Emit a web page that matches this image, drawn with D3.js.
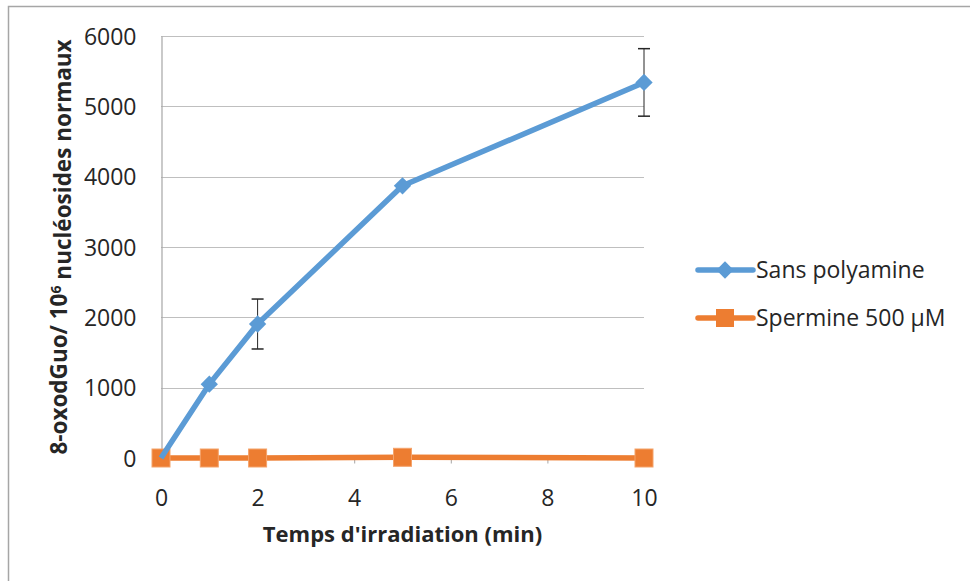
<!DOCTYPE html>
<html>
<head>
<meta charset="utf-8">
<script src="https://cdn.jsdelivr.net/npm/d3@7"></script>
<style>
html,body{margin:0;padding:0;background:#fff;}
svg{display:block;}
text{font-family:"Open Sans","Noto Sans",sans-serif;fill:#262626;}
</style>
</head>
<body>
<svg id="chart" width="970" height="581"></svg>
<script>
const times = [0, 1, 2, 5, 10];
const sansPolyamine = [0, 1050, 1905, 3870, 5340];
const sansPolyamineErr = [0, 0, 355, 0, 480];
const spermine = [0, 0, 0, 10, 0];
const seriesNames = ["Sans polyamine", "Spermine 500 µM"];
const xTicks = [0, 2, 4, 6, 8, 10];
const yTicks = [0, 1000, 2000, 3000, 4000, 5000, 6000];

const svg = d3.select("#chart");
const blue = "#5B9BD5", orange = "#ED7D31";

// chart frame
svg.append("rect").attr("x", 8.5).attr("y", 6.5).attr("width", 980).attr("height", 600)
  .attr("fill", "none").attr("stroke", "#a6a6a6").attr("stroke-width", 1.5);

const x = d3.scaleLinear().domain([0, 10]).range([161, 644]);
const y = d3.scaleLinear().domain([0, 6000]).range([458, 36]);

// gridlines
svg.append("g").selectAll("line").data(yTicks.filter(d => d > 0)).join("line")
  .attr("x1", x(0)).attr("x2", x(10))
  .attr("y1", d => Math.round(y(d)) + 0.5).attr("y2", d => Math.round(y(d)) + 0.5)
  .attr("stroke", "#bfbfbf").attr("stroke-width", 1.2);

// y axis
const yAxis = svg.append("g").attr("transform", `translate(${x(0) + 0.5},0)`)
  .call(d3.axisLeft(y).tickValues(yTicks).tickSize(0).tickPadding(25).tickFormat(d3.format("d")));
yAxis.select(".domain").attr("stroke", "#a6a6a6").attr("stroke-width", 1.2);
yAxis.selectAll("text").style("font-size", "23px").attr("fill", "#262626").attr("dy", "0.35em");

// x axis
const xAxis = svg.append("g").attr("transform", `translate(0,${y(0) + 0.5})`)
  .call(d3.axisBottom(x).tickValues(xTicks).tickSize(5).tickPadding(26));
xAxis.select(".domain").attr("stroke", "#a6a6a6").attr("stroke-width", 1.2);
xAxis.selectAll(".tick line").attr("stroke", "#a6a6a6");
xAxis.selectAll("text").style("font-size", "23px").attr("fill", "#262626");

// axis titles
svg.append("text").attr("x", (x(0) + x(10)) / 2).attr("y", 542)
  .attr("text-anchor", "middle").style("font-size", "22px").style("font-weight", "bold")
  .text("Temps d'irradiation (min)");

const yt = svg.append("text").attr("transform", `translate(67,${(y(0) + y(6000)) / 2}) rotate(-90)`)
  .attr("text-anchor", "middle").style("font-size", "22.5px").style("font-weight", "bold");
yt.append("tspan").text("8-oxodGuo/ 10");
yt.append("tspan").attr("dy", "-0.45em").style("font-size", "14px").text("6");
yt.append("tspan").attr("dy", "0.45em").text(" nucléosides normaux");

const line = d3.line().x(d => x(d[0])).y(d => y(d[1]));

// orange series
const dataO = times.map((t, i) => [t, spermine[i]]);
svg.append("path").datum(dataO).attr("d", line).attr("fill", "none")
  .attr("stroke", orange).attr("stroke-width", 5.5);
svg.append("g").selectAll("rect").data(dataO).join("rect")
  .attr("x", d => x(d[0]) - 9).attr("y", d => y(d[1]) - 9).attr("width", 18).attr("height", 18)
  .attr("fill", orange).attr("stroke", "#f4a36b").attr("stroke-width", 1);

// blue series
const dataB = times.map((t, i) => [t, sansPolyamine[i], sansPolyamineErr[i]]);
svg.append("path").datum(dataB).attr("d", line).attr("fill", "none")
  .attr("stroke", blue).attr("stroke-width", 5.5).attr("stroke-linejoin", "round");

// error bars
const eb = svg.append("g").selectAll("g").data(dataB.filter(d => d[2] > 0)).join("g");
eb.append("line").attr("x1", d => x(d[0])).attr("x2", d => x(d[0]))
  .attr("y1", d => y(d[1] + d[2])).attr("y2", d => y(d[1] - d[2]))
  .attr("stroke", "#262626").attr("stroke-width", 1);
eb.append("line").attr("x1", d => x(d[0]) - 6).attr("x2", d => x(d[0]) + 6)
  .attr("y1", d => y(d[1] + d[2])).attr("y2", d => y(d[1] + d[2]))
  .attr("stroke", "#262626").attr("stroke-width", 1.5);
eb.append("line").attr("x1", d => x(d[0]) - 6).attr("x2", d => x(d[0]) + 6)
  .attr("y1", d => y(d[1] - d[2])).attr("y2", d => y(d[1] - d[2]))
  .attr("stroke", "#262626").attr("stroke-width", 1.5);

svg.append("g").selectAll("path").data(dataB.filter(d => d[0] > 0)).join("path")
  .attr("d", d3.symbol().type(d3.symbolSquare).size(150))
  .attr("transform", d => `translate(${x(d[0])},${y(d[1])}) rotate(45)`)
  .attr("fill", blue);

// legend
const legendY = [270, 318];
const legendColors = [blue, orange];
const lg = svg.append("g").selectAll("g").data(seriesNames).join("g")
  .attr("transform", (d, i) => `translate(0,${legendY[i]})`);
lg.append("line").attr("x1", 698).attr("x2", 753).attr("y1", 0).attr("y2", 0)
  .attr("stroke", (d, i) => legendColors[i]).attr("stroke-width", 5.5).attr("stroke-linecap", "round");
lg.filter((d, i) => i === 0).append("path")
  .attr("d", d3.symbol().type(d3.symbolSquare).size(150))
  .attr("transform", "translate(725,0) rotate(45)").attr("fill", blue);
lg.filter((d, i) => i === 1).append("rect")
  .attr("x", 716).attr("y", -9).attr("width", 18).attr("height", 18).attr("fill", orange);
lg.append("text").attr("x", 756).attr("y", 0).attr("dy", "0.35em")
  .style("font-size", "23px").text(d => d);
</script>
</body>
</html>
